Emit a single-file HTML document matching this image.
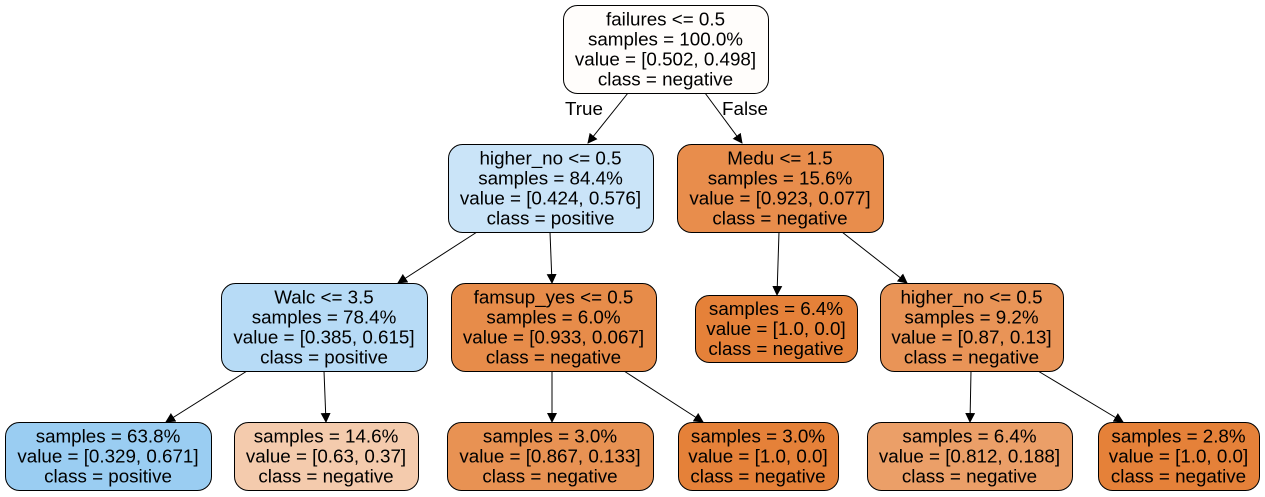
<!DOCTYPE html>
<html><head><meta charset="utf-8"><style>
html,body{margin:0;padding:0;background:#fff;}
svg{display:block;}
text{font-family:"Liberation Sans",Arial,sans-serif;font-size:18.8px;fill:#000;}
</style></head><body>
<svg id="tree" width="1265" height="497" viewBox="0 0 1265 497" xmlns="http://www.w3.org/2000/svg">
<defs><marker id="ah" markerWidth="10" markerHeight="10" refX="9" refY="5" orient="auto" markerUnits="userSpaceOnUse"><path d="M0,0 L10,5 L0,10 z" fill="#000"/></marker></defs>
<g id="edges"></g><g id="nodes"></g>
</svg>
<script>
const nodeLabels = [
 ["failures <= 0.5","samples = 100.0%","value = [0.502, 0.498]","class = negative"],
 ["higher_no <= 0.5","samples = 84.4%","value = [0.424, 0.576]","class = positive"],
 ["Medu <= 1.5","samples = 15.6%","value = [0.923, 0.077]","class = negative"],
 ["Walc <= 3.5","samples = 78.4%","value = [0.385, 0.615]","class = positive"],
 ["famsup_yes <= 0.5","samples = 6.0%","value = [0.933, 0.067]","class = negative"],
 ["samples = 6.4%","value = [1.0, 0.0]","class = negative"],
 ["higher_no <= 0.5","samples = 9.2%","value = [0.87, 0.13]","class = negative"],
 ["samples = 63.8%","value = [0.329, 0.671]","class = positive"],
 ["samples = 14.6%","value = [0.63, 0.37]","class = negative"],
 ["samples = 3.0%","value = [0.867, 0.133]","class = negative"],
 ["samples = 3.0%","value = [1.0, 0.0]","class = negative"],
 ["samples = 6.4%","value = [0.812, 0.188]","class = negative"],
 ["samples = 2.8%","value = [1.0, 0.0]","class = negative"]
];
const boxes=[[563,5,205,88],[448,144,205,88],[677,144,206,88],[221,283,206,88],[451,283,205,88],[695,295,162,67],[880,283,183,88],[5,422,206,68],[234,422,184,68],[447,422,206,68],[678,422,160,68],[867,422,205,68],[1098,422,161,68]];
const fills=["#fffdfb","#cae4f8","#e88d4c","#b7dbf6","#e78c4a","#e58139","#e99457","#9acdf2","#f4cbad","#e89253","#e58139","#eb9f68","#e58139"];
const edges=[[628,93,588,143],[705,93,742,143],[477,232,398,283],[550,232,552,283],[779,232,777,295],[842,232,907,283],[247,371,166,422],[324,371,326,422],[552,371,552,422],[624,371,703,422],[971,371,970,422],[1038,371,1123,422]];
const NS="http://www.w3.org/2000/svg";
const eg=document.getElementById('edges'), ng=document.getElementById('nodes');
edges.forEach((e,i)=>{const l=document.createElementNS(NS,'line');
l.setAttribute('x1',e[0]);l.setAttribute('y1',e[1]);l.setAttribute('x2',e[2]);l.setAttribute('y2',e[3]);
l.setAttribute('stroke','#000');l.setAttribute('stroke-width','1');l.setAttribute('marker-end','url(#ah)');


eg.appendChild(l);});
[["True",584,115],["False",745,115]].forEach(t=>{const tx=document.createElementNS(NS,'text');
tx.setAttribute('x',t[1]);tx.setAttribute('y',t[2]);tx.setAttribute('text-anchor','middle');tx.textContent=t[0];


eg.appendChild(tx);});
boxes.forEach((b,i)=>{const g=document.createElementNS(NS,'g');


const r=document.createElementNS(NS,'rect');
r.setAttribute('x',b[0]+0.5);r.setAttribute('y',b[1]+0.5);r.setAttribute('width',b[2]);r.setAttribute('height',b[3]);
r.setAttribute('rx',14);r.setAttribute('fill',fills[i]);r.setAttribute('stroke','#000');r.setAttribute('stroke-width','1');
g.appendChild(r);
const lines=nodeLabels[i];const cx=b[0]+b[2]/2;const cy=b[1]+b[3]/2;
lines.forEach((s,k)=>{const t=document.createElementNS(NS,'text');
t.setAttribute('x',cx);t.setAttribute('y',cy+(k-(lines.length-1)/2)*20+6.5);t.setAttribute('text-anchor','middle');t.textContent=s;
g.appendChild(t);});
ng.appendChild(g);});
</script>
</body></html>
